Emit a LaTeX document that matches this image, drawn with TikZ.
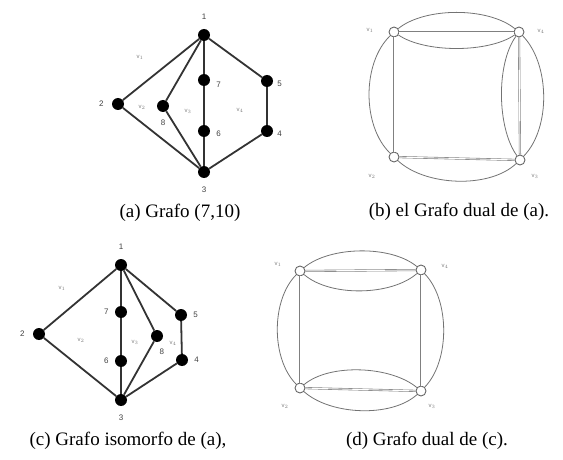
\documentclass[tikz,border=0pt]{standalone}
\usepackage{fontspec}
\setmainfont{Liberation Serif}
\newfontfamily\lbfont{Liberation Sans}
\usetikzlibrary{positioning}

\begin{document}
\begin{tikzpicture}[x=1pt, y=1pt,
  dot/.style={circle, fill=black, inner sep=0pt, minimum size=12pt},
  hol/.style={circle, draw=black!60, fill=white, line width=0.9pt, inner sep=0pt, minimum size=10pt},
  edg/.style={draw=black!80, line width=1.8pt},
  dbl/.style={draw=black!50, double=white, double distance=0.9pt, line width=0.6pt},
  bow/.style={draw=black!55, line width=0.8pt},
  num/.style={font=\lbfont\fontsize{8}{9}\selectfont, text=black!75, inner sep=1pt},
  fac/.style={font=\lbfont\fontsize{6}{7}\selectfont, text=black!50, inner sep=0pt},
  capt/.style={font=\fontsize{19}{22}\selectfont, inner sep=0pt}
]
\useasboundingbox (0,0) rectangle (563,459);

\node[dot] (a1) at (204,424) {};
\node[dot] (a2) at (118,355) {};
\node[dot] (a8) at (163,353) {};
\node[dot] (a7) at (204,379) {};
\node[dot] (a6) at (204,328) {};
\node[dot] (a5) at (267,378) {};
\node[dot] (a4) at (267,328) {};
\node[dot] (a3) at (204,287) {};
\node[num, above=8pt of a1] (na1) {1};
\node[num, left=7pt of a2] (na2) {2};
\node[num, below=7pt of a8] (na8) {8};
\node[num, right=5pt of a7, yshift=-5pt] (na7) {7};
\node[num, right=5pt of a6, yshift=-3pt] (na6) {6};
\node[num, right=3pt of a5, yshift=-3pt] (na5) {5};
\node[num, right=3pt of a4, yshift=-3pt] (na4) {4};
\node[num, below=8pt of a3] (na3) {3};
\node[fac] (fa1) at (140,402) {v$_1$};
\node[fac] (fa2) at (142,352) {v$_2$};
\node[fac] (fa3) at (188,348) {v$_3$};
\node[fac] (fa4) at (240,349) {v$_4$};
\draw[edg] (a1) -- (a2);
\draw[edg] (a1) -- (a8);
\draw[edg] (a1) -- (a7);
\draw[edg] (a1) -- (a5);
\draw[edg] (a2) -- (a3);
\draw[edg] (a8) -- (a3);
\draw[edg] (a7) -- (a6);
\draw[edg] (a6) -- (a3);
\draw[edg] (a5) -- (a4);
\draw[edg] (a4) -- (a3);
\node[capt] (capa) at (180,246) {(a) Grafo (7,10)};

\node[hol] (b1) at (394,427) {};
\node[hol] (b4) at (519,427) {};
\node[hol] (b2) at (394,302) {};
\node[hol] (b3) at (520,299) {};
\node[fac] (fb1) at (370,429) {v$_1$};
\node[fac] (fb4) at (541,428) {v$_4$};
\node[fac] (fb2) at (372,283) {v$_2$};
\node[fac] (fb3) at (535,283) {v$_3$};
\draw[dbl] (b1) -- (b4);
\draw[dbl] (b1) -- (b2);
\draw[dbl] (b2) -- (b3);
\draw[dbl] (b4) -- (b3);
\draw[bow] (b1) .. controls +(31,25) and +(-31,25) .. (b4);
\draw[bow] (b1) .. controls +(31,-21) and +(-31,-21) .. (b4);
\draw[bow] (b1) .. controls +(-32,-31) and +(-32,31) .. (b2);
\draw[bow] (b4) .. controls +(31,-32) and +(31,32) .. (b3);
\draw[bow] (b4) .. controls +(-23,-32) and +(-23,32) .. (b3);
\draw[bow] (b2) .. controls +(31,-29) and +(-31,-29) .. (b3);
\node[capt] (capb) at (459,247) {(b) el Grafo dual de (a).};

\node[dot] (c1) at (121,194) {};
\node[dot] (c2) at (39,125) {};
\node[dot] (c7) at (121,147) {};
\node[dot] (c6) at (121,98) {};
\node[dot] (c3) at (121,59) {};
\node[dot] (c8) at (157,123) {};
\node[dot] (c5) at (181,144) {};
\node[dot] (c4) at (182,99) {};
\node[num, above=8pt of c1] (nc1) {1};
\node[num, left=7pt of c2] (nc2) {2};
\node[num, left=5pt of c7] (nc7) {7};
\node[num, left=5pt of c6] (nc6) {6};
\node[num, below right=7pt and -3pt of c8] (nc8) {8};
\node[num, right=5pt of c5] (nc5) {5};
\node[num, right=5pt of c4] (nc4) {4};
\node[num, below=8pt of c3] (nc3) {3};
\node[fac] (fc1) at (62,171) {v$_1$};
\node[fac] (fc2) at (81,119) {v$_2$};
\node[fac] (fc3) at (135,117) {v$_3$};
\node[fac] (fc4) at (173,116) {v$_4$};
\draw[edg] (c1) -- (c2);
\draw[edg] (c2) -- (c3);
\draw[edg] (c1) -- (c7);
\draw[edg] (c7) -- (c6);
\draw[edg] (c6) -- (c3);
\draw[edg] (c1) -- (c8);
\draw[edg] (c8) -- (c3);
\draw[edg] (c1) -- (c5);
\draw[edg] (c5) -- (c4);
\draw[edg] (c4) -- (c3);
\node[capt] (capc) at (128,18) {(c) Grafo isomorfo de (a),};

\node[hol] (d1) at (300,188) {};
\node[hol] (d4) at (421,189) {};
\node[hol] (d2) at (300,71) {};
\node[hol] (d3) at (421,68) {};
\node[fac] (fd1) at (278,195) {v$_1$};
\node[fac] (fd4) at (445,193) {v$_4$};
\node[fac] (fd2) at (285,53) {v$_2$};
\node[fac] (fd3) at (432,53) {v$_3$};
\draw[dbl] (d1) -- (d4);
\draw[dbl] (d1) -- (d2);
\draw[dbl] (d2) -- (d3);
\draw[dbl] (d4) -- (d3);
\draw[bow] (d1) .. controls +(30,25) and +(-30,25) .. (d4);
\draw[bow] (d1) .. controls +(30,-26) and +(-30,-26) .. (d4);
\draw[bow] (d2) .. controls +(30,25) and +(-30,25) .. (d3);
\draw[bow] (d2) .. controls +(30,-27) and +(-30,-27) .. (d3);
\draw[bow] (d1) .. controls +(-29,-29) and +(-29,29) .. (d2);
\draw[bow] (d4) .. controls +(29,-30) and +(29,30) .. (d3);
\node[capt] (capd) at (427,18) {(d) Grafo dual de (c).};
\end{tikzpicture}
\end{document}
